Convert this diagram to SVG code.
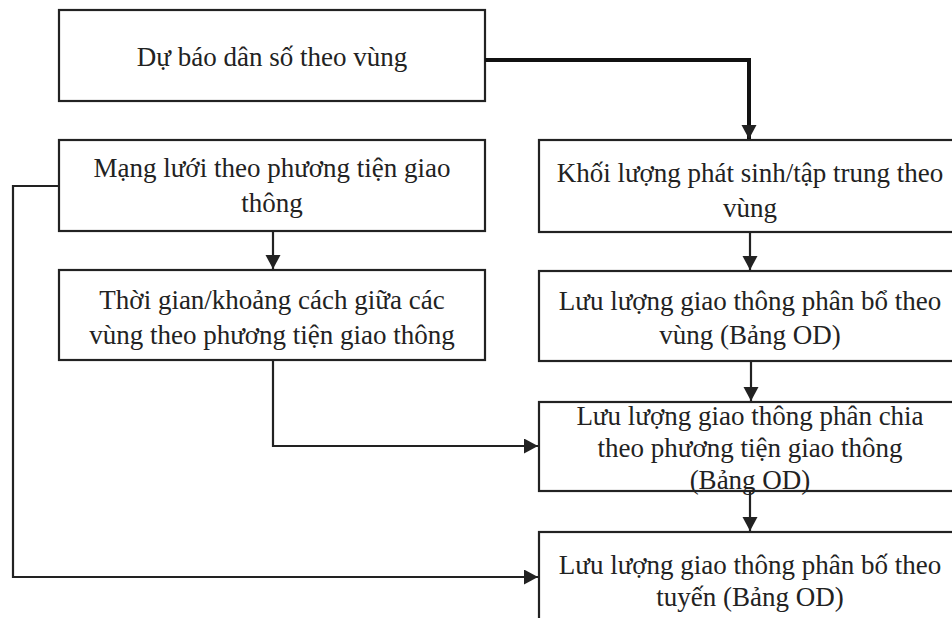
<svg xmlns="http://www.w3.org/2000/svg" width="952" height="618" viewBox="0 0 952 618">
<style>
.box{fill:#fff;stroke:#222;stroke-width:2.2}
.t{font-family:"Liberation Serif","Times New Roman",serif;font-size:27px;fill:#222;text-anchor:middle}
.c{fill:none;stroke:#222;stroke-width:2.2}
.ct{fill:none;stroke:#111;stroke-width:4}
</style>
<defs>
<marker id="ah" markerUnits="userSpaceOnUse" markerWidth="16" markerHeight="16" refX="14" refY="7.5" orient="auto">
<path d="M0,0 L14,7.5 L0,15 Z" fill="#222"/>
</marker>
</defs>
<rect width="952" height="618" fill="#fff"/>
<g id="n1"><rect class="box" x="59" y="10" width="426" height="91"/><text class="t" x="272" y="66">Dự báo dân số theo vùng</text></g>
<g id="n2"><rect class="box" x="59" y="140" width="426" height="91"/><text class="t" x="272" y="177">Mạng lưới theo phương tiện giao</text><text class="t" x="272" y="212">thông</text></g>
<g id="n3"><rect class="box" x="59" y="270" width="426" height="90"/><text class="t" x="272" y="309">Thời gian/khoảng cách giữa các</text><text class="t" x="272" y="344">vùng theo phương tiện giao thông</text></g>
<g id="n4"><rect class="box" x="539" y="140" width="424" height="92"/><text class="t" x="750" y="182">Khối lượng phát sinh/tập trung theo</text><text class="t" x="750" y="217">vùng</text></g>
<g id="n5"><rect class="box" x="539" y="271" width="424" height="90"/><text class="t" x="750" y="310">Lưu lượng giao thông phân bổ theo</text><text class="t" x="750" y="344">vùng (Bảng OD)</text></g>
<g id="n6"><rect class="box" x="539" y="402" width="424" height="89"/><text class="t" x="750" y="425">Lưu lượng giao thông phân chia</text><text class="t" x="750" y="457">theo phương tiện giao thông</text><text class="t" x="750" y="489">(Bảng OD)</text></g>
<g id="n7"><rect class="box" x="539" y="532" width="424" height="120"/><text class="t" x="750" y="574">Lưu lượng giao thông phân bố theo</text><text class="t" x="750" y="606">tuyến (Bảng OD)</text></g>
<g id="connectors">
<path class="ct" d="M485,60 H749 V139" marker-end="url(#ah)"/>
<path class="c" d="M273,231 V269" marker-end="url(#ah)"/>
<path class="c" d="M750,232 V270" marker-end="url(#ah)"/>
<path class="c" d="M751,361 V401" marker-end="url(#ah)"/>
<path class="c" d="M750,491 V531" marker-end="url(#ah)"/>
<path class="c" d="M273,360 V446 H538" marker-end="url(#ah)"/>
<path class="c" d="M59,186 H13 V577 H538" marker-end="url(#ah)"/>
</g>
</svg>
